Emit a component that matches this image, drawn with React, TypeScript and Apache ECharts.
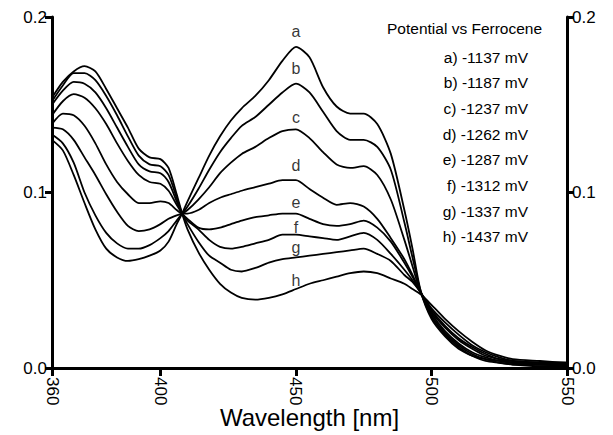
import React, { useEffect, useRef } from "react";
import * as echarts from "echarts";

const wavelengths = [360,364,368,372,376,380,384,388,392,396,400,403,406,408,410,414,418,422,426,430,435,440,445,450,455,460,465,470,475,480,485,490,493,496,500,505,510,515,520,525,530,540,550];

const curveA = [0.130,0.124,0.110,0.094,0.079,0.068,0.063,0.061,0.062,0.064,0.067,0.072,0.082,0.088,0.095,0.108,0.121,0.132,0.141,0.148,0.155,0.164,0.175,0.183,0.177,0.160,0.149,0.145,0.145,0.139,0.122,0.090,0.068,0.044,0.028,0.018,0.011,0.007,0.004,0.003,0.002,0.001,0.001];
const curveB = [0.133,0.128,0.117,0.100,0.087,0.077,0.071,0.068,0.068,0.070,0.074,0.078,0.084,0.088,0.092,0.102,0.113,0.123,0.131,0.138,0.143,0.150,0.157,0.162,0.157,0.146,0.135,0.130,0.130,0.126,0.113,0.083,0.063,0.044,0.029,0.019,0.012,0.007,0.005,0.003,0.002,0.002,0.001];
const curveC = [0.137,0.136,0.130,0.120,0.110,0.099,0.089,0.081,0.078,0.079,0.082,0.085,0.087,0.088,0.090,0.096,0.103,0.111,0.117,0.122,0.126,0.131,0.135,0.136,0.131,0.123,0.116,0.114,0.115,0.110,0.096,0.073,0.058,0.043,0.030,0.020,0.013,0.008,0.005,0.004,0.003,0.002,0.002];
const curveD = [0.139,0.145,0.144,0.138,0.128,0.116,0.106,0.099,0.094,0.094,0.095,0.094,0.090,0.088,0.088,0.090,0.094,0.097,0.099,0.101,0.103,0.105,0.107,0.107,0.102,0.097,0.093,0.094,0.092,0.085,0.074,0.062,0.053,0.043,0.031,0.021,0.014,0.009,0.006,0.004,0.003,0.002,0.002];
const curveE = [0.144,0.152,0.156,0.154,0.148,0.139,0.128,0.118,0.110,0.106,0.105,0.101,0.093,0.088,0.085,0.080,0.079,0.080,0.082,0.084,0.086,0.087,0.088,0.088,0.085,0.082,0.081,0.082,0.084,0.080,0.072,0.060,0.052,0.043,0.032,0.023,0.016,0.011,0.007,0.005,0.003,0.003,0.002];
const curveF = [0.150,0.158,0.163,0.162,0.157,0.148,0.137,0.126,0.116,0.112,0.111,0.106,0.095,0.088,0.084,0.079,0.073,0.069,0.068,0.069,0.071,0.073,0.076,0.076,0.075,0.074,0.073,0.075,0.077,0.073,0.065,0.056,0.050,0.043,0.033,0.024,0.017,0.012,0.008,0.005,0.004,0.003,0.002];
const curveG = [0.152,0.161,0.168,0.168,0.164,0.155,0.144,0.132,0.121,0.116,0.115,0.110,0.097,0.088,0.082,0.072,0.064,0.060,0.056,0.055,0.057,0.060,0.062,0.063,0.064,0.065,0.066,0.067,0.068,0.065,0.061,0.053,0.049,0.043,0.034,0.026,0.019,0.013,0.009,0.006,0.004,0.003,0.003];
const curveH = [0.154,0.163,0.169,0.172,0.169,0.159,0.148,0.137,0.125,0.120,0.119,0.114,0.099,0.088,0.079,0.066,0.056,0.048,0.043,0.040,0.039,0.040,0.042,0.045,0.048,0.050,0.052,0.054,0.055,0.054,0.051,0.048,0.045,0.042,0.036,0.028,0.021,0.015,0.010,0.007,0.005,0.004,0.003];

const curves = [curveA, curveB, curveC, curveD, curveE, curveF, curveG, curveH];
const curveLetters = ["a", "b", "c", "d", "e", "f", "g", "h"];
const labelWavelength = 450;
const labelValues = [0.192, 0.1705, 0.1426, 0.1156, 0.0943, 0.080, 0.0688, 0.050];
const potentials = ["-1137", "-1187", "-1237", "-1262", "-1287", "-1312", "-1337", "-1437"];
const legendTitle = "Potential vs Ferrocene";
const xTicks = [360, 400, 450, 500, 550];
const xName = "Wavelength [nm]";

const FONT = "'Liberation Sans', Arial, Helvetica, sans-serif";

export default function App() {
  const ref = useRef<HTMLDivElement>(null);
  useEffect(() => {
    if (!ref.current) return;
    const chart = echarts.init(ref.current, undefined, { renderer: "svg" });
    const yAxisBase = {
      type: "value",
      min: 0,
      max: 0.2,
      interval: 0.1,
      splitLine: { show: false },
      axisLine: { show: true, lineStyle: { color: "#000", width: 3 } },
      axisTick: { show: true, inside: false, length: 7, lineStyle: { color: "#000", width: 3 } },
      axisLabel: {
        color: "#000",
        fontSize: 17,
        fontFamily: FONT,
        margin: 5,
        formatter: (v: number) => v.toFixed(1),
      },
    };
    const option: any = {
      animation: false,
      backgroundColor: "#fff",
      grid: { left: 52, right: 46, top: 17, bottom: 67, outerBoundsMode: "none", containLabel: false },
      xAxis: {
        type: "value",
        min: 360,
        max: 550,
        splitLine: { show: false },
        axisLine: { show: true, onZero: false, lineStyle: { color: "#000", width: 3 } },
        axisTick: { show: true, length: 8, customValues: xTicks, lineStyle: { color: "#000", width: 3 } },
        axisLabel: {
          customValues: xTicks,
          rotate: -90,
          color: "#000",
          fontSize: 17,
          fontFamily: FONT,
          margin: 9,
        },
        name: xName,
        nameLocation: "middle",
        nameGap: 36,
        nameMoveOverlap: false,
        nameTextStyle: { color: "#000", fontSize: 24, fontFamily: FONT, lineHeight: 26 },
      },
      yAxis: [
        { ...yAxisBase, position: "left" },
        { ...yAxisBase, position: "right" },
      ],
      series: [
        ...curves.map((vals, i) => ({
          type: "line",
          name: curveLetters[i],
          data: wavelengths.map((w, j) => [w, vals[j]]),
          showSymbol: false,
          symbol: "none",
          smooth: 0.25,
          lineStyle: { color: "#000", width: 1.8 },
          silent: true,
        })),
        {
          type: "scatter",
          data: labelValues.map((v) => [labelWavelength, v]),
          symbolSize: 0,
          label: {
            show: true,
            position: "inside",
            color: "#000",
            fontSize: 16,
            fontFamily: FONT,
            formatter: (p: any) => curveLetters[p.dataIndex],
          },
          silent: true,
        },
      ],
      graphic: [
        {
          type: "text",
          x: 387,
          y: 28,
          style: {
            text: legendTitle,
            fill: "#000",
            font: `15.5px ${FONT}`,
            align: "left",
            verticalAlign: "middle",
            textAlign: "left",
            textVerticalAlign: "middle",
          },
        },
        ...potentials.map((p, i) => ({
          type: "text",
          x: 528,
          y: 57 + i * 25.7,
          style: {
            text: `${curveLetters[i]}) ${p} mV`,
            fill: "#000",
            font: `15.5px ${FONT}`,
            align: "right",
            verticalAlign: "middle",
            textAlign: "right",
            textVerticalAlign: "middle",
          },
        })),
      ],
    };
    chart.setOption(option);
    return () => chart.dispose();
  }, []);
  return (
    <div
      ref={ref}
      style={{ position: "fixed", left: 0, top: 0, width: 613, height: 435, background: "#fff" }}
    />
  );
}
